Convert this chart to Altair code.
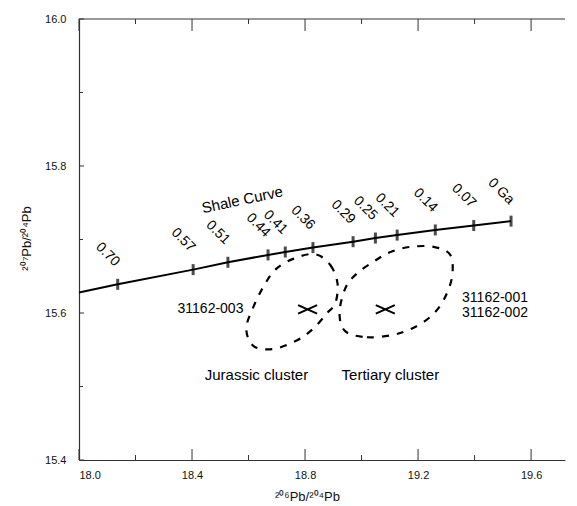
import altair as alt
import pandas as pd

# Shale curve (model Pb evolution) with age tick marks
ages = ["0.70", "0.57", "0.51", "0.44", "0.41", "0.36", "0.29", "0.25", "0.21", "0.14", "0.07", "0 Ga"]
age_pb206 = [18.137, 18.404, 18.527, 18.669, 18.730, 18.828, 18.970, 19.049, 19.126, 19.261, 19.397, 19.529]
age_pb207 = [15.639, 15.659, 15.669, 15.679, 15.683, 15.689, 15.697, 15.702, 15.706, 15.713, 15.719, 15.725]
curve_start_x = 18.0
curve_start_y = 15.628

# Dashed cluster outlines
jur_x = [18.836, 18.890, 18.915, 18.907, 18.878, 18.830, 18.772, 18.689, 18.618, 18.592, 18.618, 18.653, 18.695, 18.760]
jur_y = [15.680, 15.665, 15.640, 15.613, 15.600, 15.579, 15.563, 15.551, 15.555, 15.579, 15.609, 15.636, 15.659, 15.674]
ter_x = [18.943, 19.019, 19.108, 19.179, 19.244, 19.291, 19.320, 19.314, 19.255, 19.173, 19.102, 19.043, 18.984, 18.943, 18.922]
ter_y = [15.575, 15.567, 15.570, 15.579, 15.595, 15.618, 15.649, 15.679, 15.690, 15.690, 15.683, 15.670, 15.654, 15.634, 15.600]

# Cluster centres (X markers)
centre_names = ["Jurassic", "Tertiary"]
centre_x = [18.809, 19.084]
centre_y = [15.605, 15.605]

# Text annotations
note_text = ["Jurassic cluster", "Tertiary cluster"]
note_x = [18.628, 19.102]
note_y = [15.516, 15.516]
sample_text = ["31162-003", "31162-001", "31162-002"]
sample_x = [18.582, 19.589, 19.589]
sample_y = [15.605, 15.621, 15.600]

x_major = [18.0, 18.4, 18.8, 19.2, 19.6]
x_minor = [18.2, 18.6, 19.0, 19.4]
y_major = [15.4, 15.6, 15.8, 16.0]
y_minor = [15.5, 15.7, 15.9]
x_domain = [18.0, 19.72]
y_domain = [15.4, 16.0]

W, H = 486, 441
FONT = "Liberation Sans"

curve_df = pd.DataFrame({
    "x": [curve_start_x] + age_pb206,
    "y": [curve_start_y] + age_pb207,
})
ticks_df = pd.DataFrame({"x": age_pb206, "y": age_pb207, "age": ages})

ell_rows = []
for i, (a, b) in enumerate(zip(jur_x, jur_y)):
    ell_rows.append({"cluster": "Jurassic", "idx": i, "x": a, "y": b})
for i, (a, b) in enumerate(zip(ter_x, ter_y)):
    ell_rows.append({"cluster": "Tertiary", "idx": i, "x": a, "y": b})
ell_df = pd.DataFrame(ell_rows)

centre_df = pd.DataFrame({"name": centre_names, "x": centre_x, "y": centre_y})
note_df = pd.DataFrame({"t": note_text, "x": note_x, "y": note_y})
sample_df = pd.DataFrame({"t": sample_text, "x": sample_x, "y": sample_y})

xs = alt.Scale(domain=x_domain, nice=False, zero=False)
ys = alt.Scale(domain=y_domain, nice=False, zero=False)

X = alt.X("x:Q", scale=xs,
          axis=alt.Axis(values=x_major, format=".1f", ticks=False, tickSize=0, grid=False,
                        labelPadding=9, labelFontSize=11, labelFont=FONT, labelColor="#111",
                        domainColor="#333", domainWidth=1.2,
                        title="²⁰⁶Pb/²⁰⁴Pb", titleFont=FONT, titleFontSize=13,
                        titleFontWeight="normal", titleColor="#111", titleX=228, titleY=36,
                        titleBaseline="middle"))
Y = alt.Y("y:Q", scale=ys,
          axis=alt.Axis(values=y_major, format=".1f", ticks=False, tickSize=0, grid=False,
                        labelPadding=13, labelFontSize=11, labelFont=FONT, labelColor="#111",
                        domainColor="#333", domainWidth=1.2,
                        title="²⁰⁷Pb/²⁰⁴Pb", titleFont=FONT, titleFontSize=13,
                        titleFontWeight="normal", titleColor="#111", titleX=-53, titleY=219,
                        titleAngle=270, titleBaseline="middle", titleAlign="center"))

line = alt.Chart(curve_df).mark_line(color="black", strokeWidth=2).encode(
    x=X, y=Y, order="x:Q")

curve_ticks = alt.Chart(ticks_df).mark_tick(orient="vertical", size=11, thickness=3,
                                            color="black").encode(x="x:Q", y="y:Q")

age_labels = alt.Chart(ticks_df).mark_text(angle=45, align="center", baseline="middle",
                                           dx=-28, dy=-14, fontSize=14, font=FONT,
                                           color="black").encode(
    x="x:Q", y="y:Q", text="age:N")

shale = alt.Chart(pd.DataFrame({"t": ["Shale Curve"], "x": [18.578], "y": [15.754]})).mark_text(
    angle=348, fontSize=15, font=FONT, color="black").encode(x="x:Q", y="y:Q", text="t:N")

ellipses = alt.Chart(ell_df).mark_line(color="black", strokeWidth=2.2, strokeDash=[7, 8],
                                       interpolate="cardinal-closed").encode(
    x="x:Q", y="y:Q", detail="cluster:N", order="idx:Q")

crosses = alt.Chart(centre_df).mark_point(shape="M-1,-0.45L1,0.45M-1,0.45L1,-0.45", size=361,
                                          filled=False, strokeWidth=2, color="black",
                                          opacity=1).encode(x="x:Q", y="y:Q")

notes = alt.Chart(note_df).mark_text(fontSize=15, font=FONT, color="black").encode(
    x="x:Q", y="y:Q", text="t:N")

samples = alt.Chart(sample_df).mark_text(fontSize=14, font=FONT, color="black", align="right",
                                         baseline="middle").encode(x="x:Q", y="y:Q", text="t:N")

top_line = alt.Chart(pd.DataFrame({"a": [0]})).mark_rule(color="#333", strokeWidth=1.2).encode(
    x=alt.datum(x_domain[0]), x2=alt.datum(x_domain[1]), y=alt.datum(y_domain[1]))

xmaj_df = pd.DataFrame({"x": x_major})
xmin_df = pd.DataFrame({"x": x_minor})
ymaj_df = pd.DataFrame({"y": y_major})
ymin_df = pd.DataFrame({"y": y_minor})

bot_maj = alt.Chart(xmaj_df).mark_rule(color="#333").encode(
    x="x:Q", y=alt.value(H), y2=alt.value(H - 11))
bot_min = alt.Chart(xmin_df).mark_rule(color="#333").encode(
    x="x:Q", y=alt.value(H), y2=alt.value(H - 5))
top_maj = alt.Chart(xmaj_df).mark_rule(color="#333").encode(
    x="x:Q", y=alt.value(0), y2=alt.value(12))
top_min = alt.Chart(xmin_df).mark_rule(color="#333").encode(
    x="x:Q", y=alt.value(0), y2=alt.value(5))
left_maj = alt.Chart(ymaj_df).mark_rule(color="#333").encode(
    y="y:Q", x=alt.value(0), x2=alt.value(5))
left_min = alt.Chart(ymin_df).mark_rule(color="#333").encode(
    y="y:Q", x=alt.value(0), x2=alt.value(4))

chart = alt.layer(
    line, top_line, bot_maj, bot_min, top_maj, top_min, left_maj, left_min,
    ellipses, curve_ticks, age_labels, shale, crosses, notes, samples,
).properties(
    width=W, height=H,
    autosize=alt.AutoSizeParams(type="none"),
    padding={"left": 71, "top": 11, "right": 4, "bottom": 47},
    background="white",
).configure_view(stroke=None)

chart.save("out.html", embed_options={"renderer": "svg", "actions": False})
